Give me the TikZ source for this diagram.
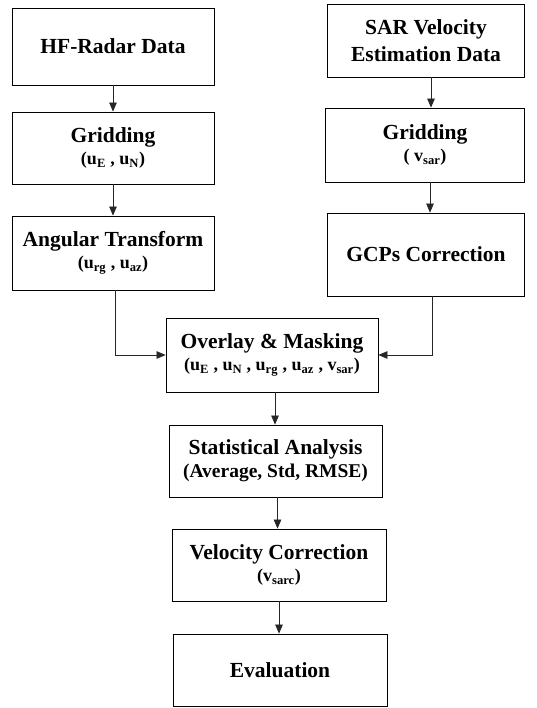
\documentclass[tikz,border=0pt]{standalone}
\usepackage{fontspec}
\setmainfont{Liberation Serif}
\usetikzlibrary{arrows.meta}
\begin{document}
\begin{tikzpicture}[x=1pt,y=-1pt,
  box/.style={draw=black,line width=0.8pt,rectangle,inner sep=0pt,align=center,
    font=\fontsize{21.5}{25}\selectfont\bfseries},
  conn/.style={draw=black!85,line width=0.7pt,-{Triangle[length=9pt,width=7.5pt]}}]
\newcommand{\pl}[1]{{\fontsize{18}{21}\selectfont #1}}
\useasboundingbox (0,0) rectangle (536,708);
\fill[white] (0,0) rectangle (536,708);
\node[box,minimum width=202,minimum height=77] (hf) at (113,46.5) {HF-Radar Data};
\node[box,minimum width=202,minimum height=72] (lg) at (113,148) {Gridding\\[-3pt]\pl{(u\textsubscript{E} , u\textsubscript{N})}};
\node[box,minimum width=202,minimum height=74] (ang) at (113,253) {Angular Transform\\[-3pt]\pl{(u\textsubscript{rg} , u\textsubscript{az})}};
\node[box,minimum width=197,minimum height=73] (sar) at (426,40.5) {SAR Velocity\\[2pt]Estimation Data};
\node[box,minimum width=199,minimum height=74] (rg) at (425,145) {Gridding\\[-3pt]\pl{( v\textsubscript{sar})}};
\node[box,minimum width=197,minimum height=83] (gcp) at (426,254.5) {GCPs Correction};
\node[box,minimum width=212,minimum height=74] (ov) at (272,355) {Overlay \& Masking\\[-3pt]\pl{(u\textsubscript{E} , u\textsubscript{N} , u\textsubscript{rg} , u\textsubscript{az} , v\textsubscript{sar})}};
\node[box,minimum width=213,minimum height=72] (st) at (275.5,461) {Statistical Analysis\\[-2pt]{\fontsize{19.5}{22}\selectfont (Average, Std, RMSE)}};
\node[box,minimum width=214,minimum height=72] (vc) at (279,565) {Velocity Correction\\[-3pt]\pl{(v\textsubscript{sarc})}};
\node[box,minimum width=214,minimum height=72] (ev) at (280,670) {Evaluation};
\draw[conn] (hf.south) -- (hf.south |- lg.north);
\draw[conn] (lg.south) -- (lg.south |- ang.north);
\draw[conn] ([xshift=5pt]sar.south) -- ([xshift=5pt]sar.south |- rg.north);
\draw[conn] ([xshift=5pt]rg.south) -- ([xshift=5pt]rg.south |- gcp.north);
\draw[conn] ([xshift=2pt]ang.south) |- (ov.west);
\draw[conn] ([xshift=6pt]gcp.south) |- (ov.east);
\draw[conn] ([xshift=3pt]ov.south) -- ([xshift=3pt]ov.south |- st.north);
\draw[conn] ([xshift=2pt]st.south) -- ([xshift=2pt]st.south |- vc.north);
\draw[conn] (vc.south) -- (vc.south |- ev.north);
\end{tikzpicture}
\end{document}
